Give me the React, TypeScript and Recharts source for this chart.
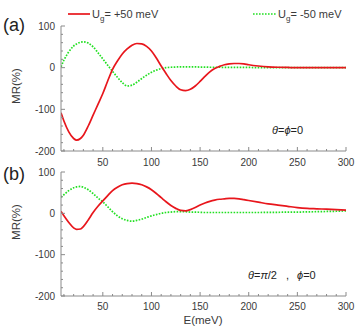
import React from 'react';
import { LineChart, Line, XAxis, YAxis } from 'recharts';

const energy = [7, 10, 15, 20, 23, 27, 30, 35, 40, 45,
  50, 55, 60, 65, 70, 75, 80, 85, 90, 95, 100, 105, 110, 115, 120, 125, 130, 135, 140, 145, 150, 155, 160, 165, 170, 175, 180, 185, 190, 195, 200,
  210, 220, 230, 240, 250, 260, 270, 280, 290, 300];

const redA = [-108, -128, -154, -170, -174, -170, -162, -140, -114, -88,
  -62, -32, -4, 16, 33, 45, 54, 58, 57, 51, 40, 23, 4, -14, -31, -44, -53, -55, -52, -44, -33, -21, -10, -2, 3, 7, 9, 10, 10, 9, 7,
  4, 2, 1, 0.5, 0, 0, 0, 0, 0, 0];

const greenA = [2, 18, 38, 52, 57, 61, 62, 59, 50, 36,
  21, 6, -9, -23, -36, -44, -42, -35, -26, -18, -11, -6, -2, 0, 1, 1.5, 2, 2, 2, 2, 1.5, 1.5, 1, 1, 1, 0.5, 0.5, 0.5, 0.5, 0.5, 0.5,
  0, 0, 0, 0, 0, 0, 0, 0, 0, 0];

const redB = [5, -6, -22, -35, -39, -38, -32, -16, 2, 17,
  30, 43, 55, 63, 69, 72, 73, 72, 69, 64, 57, 48, 38, 28, 19, 12, 7, 6, 9, 14, 20, 25, 29, 32, 34, 35, 36, 36, 35, 33, 31,
  27, 23, 20, 17, 14, 12, 11, 10, 9, 8];

const greenB = [39, 45, 55, 62, 64, 65, 63, 57, 48, 37,
  28, 16, 4, -6, -13, -17, -19, -17, -14, -10, -6, -3, 0, 2, 3, 4, 4, 4, 3, 3, 2.5, 2, 2, 2, 2, 2, 2, 2, 2, 2, 2,
  2, 2.5, 2.5, 3, 3, 3.5, 4, 4.5, 5, 6];

const xTicks = [10, 20, 30, 40, 50, 60, 70, 80, 90, 100, 110, 120, 130, 140, 150, 160, 170, 180, 190, 200, 210, 220, 230, 240, 250, 260, 270, 280, 290, 300];
const yTicks = [-200, -180, -160, -140, -120, -100, -80, -60, -40, -20, 0, 20, 40, 60, 80, 100];

const legendLabels = ['+50 meV', '-50 meV'];
const panelLabels = ['(a)', '(b)'];

const dataA = energy.map((e, i) => ({ e, red: redA[i], green: greenA[i] }));
const dataB = energy.map((e, i) => ({ e, red: redB[i], green: greenB[i] }));

const AXIS = '#8a8a8a';
const TXT = '#3a3a3a';
const FONT = '"Liberation Sans", Arial, sans-serif';
const RED = '#e8161c';
const GREEN = '#22e022';

function BottomTick(props: any) {
  const { x, y, payload, gap } = props;
  const v = payload.value;
  const axisY = y - gap;
  const major = v % 50 === 0;
  return (
    <g>
      <line x1={x} x2={x} y1={axisY} y2={axisY - (major ? 4 : 2)} stroke={AXIS} strokeWidth={1} />
      {major && (
        <text x={x} y={y} dy="0.71em" textAnchor="middle" fontSize={10} fill={TXT} fontFamily={FONT}>{v}</text>
      )}
    </g>
  );
}

function TopTick(props: any) {
  const { x, y, payload } = props;
  const major = payload.value % 50 === 0;
  return <line x1={x} x2={x} y1={y} y2={y + (major ? 4 : 2)} stroke={AXIS} strokeWidth={1} />;
}

function LeftTick(props: any) {
  const { x, y, payload, gap } = props;
  const v = payload.value;
  const axisX = x + gap;
  const major = v % 100 === 0;
  return (
    <g>
      <line x1={axisX} x2={axisX + (major ? 4 : 2)} y1={y} y2={y} stroke={AXIS} strokeWidth={1} />
      {major && (
        <text x={x} y={y} dy="0.355em" textAnchor="end" fontSize={10} fill={TXT} fontFamily={FONT}>{v}</text>
      )}
    </g>
  );
}

function RightTick(props: any) {
  const { x, y, payload } = props;
  const major = payload.value % 100 === 0;
  return <line x1={x} x2={x - (major ? 4 : 2)} y1={y} y2={y} stroke={AXIS} strokeWidth={1} />;
}

function Panel({ data, top, height, marginTop, xHeight, xGap }: any) {
  return (
    <div style={{ position: 'absolute', left: 0, top }}>
      <LineChart width={361} height={height} data={data} margin={{ top: marginTop, right: 15, bottom: 0, left: 0 }}>
        <XAxis xAxisId="b" dataKey="e" type="number" domain={[7, 300]} allowDataOverflow ticks={xTicks} interval={0}
          height={xHeight} tickSize={0} tickMargin={xGap} axisLine={{ stroke: AXIS }} tickLine={false}
          tick={(p: any) => <BottomTick {...p} gap={xGap} />} />
        <XAxis xAxisId="t" orientation="top" dataKey="e" type="number" domain={[7, 300]} allowDataOverflow ticks={xTicks} interval={0}
          height={0} tickSize={0} tickMargin={0} axisLine={{ stroke: AXIS }} tickLine={false}
          tick={(p: any) => <TopTick {...p} />} />
        <YAxis yAxisId="l" type="number" domain={[-200, 100]} allowDataOverflow ticks={yTicks} interval={0}
          width={61} tickSize={0} tickMargin={6} axisLine={{ stroke: AXIS }} tickLine={false}
          tick={(p: any) => <LeftTick {...p} gap={6} />} />
        <YAxis yAxisId="r" orientation="right" type="number" domain={[-200, 100]} allowDataOverflow ticks={yTicks} interval={0}
          width={0} tickSize={0} tickMargin={0} axisLine={{ stroke: AXIS }} tickLine={false}
          tick={(p: any) => <RightTick {...p} />} />
        <Line xAxisId="b" yAxisId="l" dataKey="green" type="monotone" stroke={GREEN} strokeWidth={1.7}
          strokeDasharray="1.6 1.4" dot={false} isAnimationActive={false} />
        <Line xAxisId="b" yAxisId="l" dataKey="red" type="monotone" stroke={RED} strokeWidth={1.7}
          dot={false} isAnimationActive={false} />
      </LineChart>
    </div>
  );
}

export default function App() {
  return (
    <div style={{ position: 'absolute', left: 0, top: 0, width: 361, height: 327, background: '#fff', fontFamily: FONT }}>
      <Panel data={dataA} top={0} height={170} marginTop={26} xHeight={19} xGap={8} />
      <Panel data={dataB} top={160} height={167} marginTop={12} xHeight={31} xGap={7} />
      <svg width={361} height={327} style={{ position: 'absolute', left: 0, top: 0, pointerEvents: 'none' }}>
        {/* legend */}
        <line x1={68} x2={90} y1={14} y2={14} stroke={RED} strokeWidth={1.7} />
        <text x={92} y={17.5} fontSize={11} fill={TXT} fontFamily={FONT}>
          U<tspan fontSize={8} dy={3}>g</tspan><tspan dy={-3}>= {legendLabels[0]}</tspan>
        </text>
        <line x1={253} x2={276} y1={14} y2={14} stroke={GREEN} strokeWidth={1.7} strokeDasharray="1.6 1.4" />
        <text x={278} y={17.5} fontSize={11} fill={TXT} fontFamily={FONT}>
          U<tspan fontSize={8} dy={3}>g</tspan><tspan dy={-3}>= {legendLabels[1]}</tspan>
        </text>
        {/* panel labels */}
        <text x={3} y={31} fontSize={18} fill="#222" fontFamily={FONT}>{panelLabels[0]}</text>
        <text x={3} y={180} fontSize={18} fill="#222" fontFamily={FONT}>{panelLabels[1]}</text>
        {/* y labels */}
        <text x={0} y={0} fontSize={11.5} fill={TXT} fontFamily={FONT} textAnchor="middle" transform="translate(20,86) rotate(-90)">MR(%)</text>
        <text x={0} y={0} fontSize={11.5} fill={TXT} fontFamily={FONT} textAnchor="middle" transform="translate(20,222) rotate(-90)">MR(%)</text>
        {/* annotations */}
        <text x={272} y={134} fontSize={11} fill="#222" fontFamily={FONT}>
          <tspan fontStyle="italic">θ</tspan>=<tspan fontStyle="italic">ϕ</tspan>=0
        </text>
        <text x={248} y={279} fontSize={11} fill="#222" fontFamily={FONT}>
          <tspan fontStyle="italic">θ</tspan>=<tspan fontStyle="italic">π</tspan>/2
        </text>
        <text x={286} y={279} fontSize={11} fill="#222" fontFamily={FONT}>,</text>
        <text x={297} y={279} fontSize={11} fill="#222" fontFamily={FONT}>
          <tspan fontStyle="italic">ϕ</tspan>=0
        </text>
        {/* x label */}
        <text x={203} y={324} fontSize={11.5} fill={TXT} fontFamily={FONT} textAnchor="middle">E(meV)</text>
      </svg>
    </div>
  );
}
